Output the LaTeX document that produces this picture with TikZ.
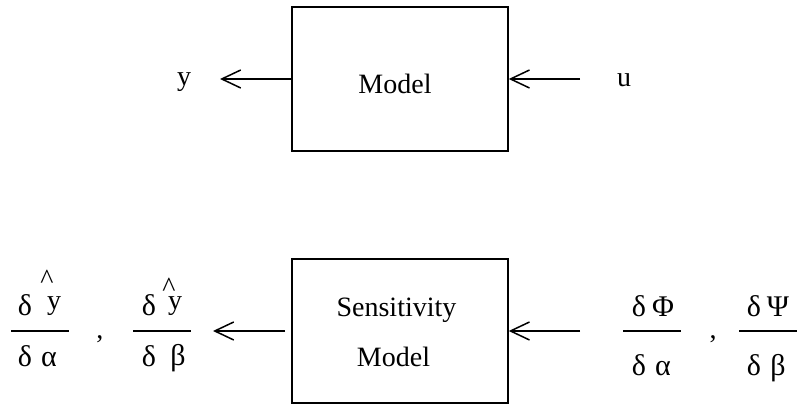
\documentclass[tikz,border=0pt]{standalone}
\usepackage{fontspec}
\setmainfont{Liberation Serif}
\usetikzlibrary{arrows.meta}
% y with a circumflex set above it; #1 = shift left, #2 = raise
\newcommand{\hatty}[2]{\makebox[0pt][l]{\hspace{#1}\raisebox{#2}{\textasciicircum}}y}
\begin{document}
\begin{tikzpicture}[x=0.5pt,y=-0.5pt,
  every node/.style={font=\fontsize{14pt}{17pt}\selectfont, inner sep=0pt},
  greek/.style={anchor=base, font=\fontsize{15pt}{18pt}\selectfont},
  blockbox/.style={draw, line width=0.75pt, rectangle, minimum width=108pt, minimum height=72pt},
  txt/.style={anchor=base},
  flow/.style={line width=0.75pt, -{Straight Barb[length=9.5pt, width=9pt, line width=0.75pt]}},
  fracbar/.style={line width=0.75pt}]
\useasboundingbox (0,0) rectangle (799,405);

% --- plant model ---
\node[blockbox] (model) at (400,79) {};
\node[txt] (modeltxt) at (395,94) {Model};
\node[txt] (yout) at (184,86) {y};
\node[txt] (uin) at (624,87) {u};
\coordinate (ytip) at (220,79);
\coordinate (ustart) at (580,79);
\draw[flow] (model.west) -- (ytip);
\draw[flow] (ustart) -- (model.east);

% --- sensitivity model ---
\node[blockbox] (sens) at (400,331) {};
\node[txt] (senstxt1) at (396.5,317) {Sensitivity};
\node[txt] (senstxt2) at (393.5,367) {Model};
\coordinate (sstart) at (285,331);
\coordinate (stip) at (213,331);
\coordinate (pstart) at (580,331);
\draw[flow] (sstart) -- (stip);
\draw[flow] (pstart) -- (sens.east);

% --- outputs: dy/dalpha , dy/dbeta ---
\node[greek] (n1d) at (25,316) {δ};
\node[txt] (n1y) at (54,310) {\hatty{-3.3pt}{10.5pt}};
\coordinate (b1l) at (11,331);
\coordinate (b1r) at (69,331);
\draw[fracbar] (b1l) -- (b1r);
\node[greek] (d1d) at (25,367) {δ};
\node[greek] (d1a) at (49,367) {α};
\node[txt] (c1) at (100,339) {,};

\node[greek] (n2d) at (149,316) {δ};
\node[txt] (n2y) at (175,310) {\hatty{-2.8pt}{6.5pt}};
\coordinate (b2l) at (133,331);
\coordinate (b2r) at (191,331);
\draw[fracbar] (b2l) -- (b2r);
\node[greek] (d2d) at (149,367) {δ};
\node[greek] (d2b) at (178,366) {β};

% --- inputs: dPhi/dalpha , dPsi/dbeta ---
\node[greek] (n3d) at (639,317) {δ};
\node[greek] (n3p) at (663,317) {Φ};
\coordinate (b3l) at (623,331);
\coordinate (b3r) at (681,331);
\draw[fracbar] (b3l) -- (b3r);
\node[greek] (d3d) at (639,376) {δ};
\node[greek] (d3a) at (663,376) {α};
\node[txt] (c2) at (713,339) {,};

\node[greek] (n4d) at (754,317) {δ};
\node[greek] (n4p) at (778,317) {Ψ};
\coordinate (b4l) at (739,331);
\coordinate (b4r) at (797,331);
\draw[fracbar] (b4l) -- (b4r);
\node[greek] (d4d) at (754,376) {δ};
\node[greek] (d4b) at (778,376) {β};
\end{tikzpicture}
\end{document}
